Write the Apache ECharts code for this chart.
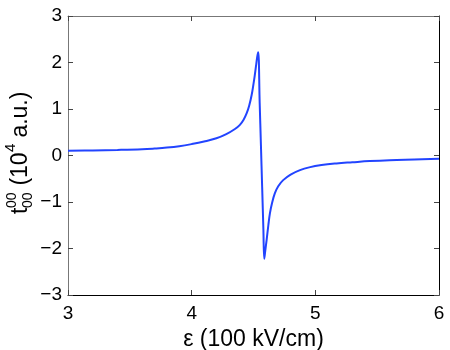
<!DOCTYPE html>
<html>
<head>
<meta charset="utf-8">
<script src="https://cdn.jsdelivr.net/npm/echarts@6/dist/echarts.min.js"></script>
<style>
	html, body { margin: 0; padding: 0; background: #fff; }
	#chart { width: 450px; height: 350px; }
</style>
</head>
<body>
<div id="chart"></div>
<script>
	// field values (100 kV/cm)
	var eps = [3.0, 3.2, 3.4, 3.6, 3.7, 3.8, 3.9, 4.0, 4.1, 4.2, 4.28, 4.35, 4.39, 4.42, 4.445, 4.465, 4.485, 4.5, 4.51, 4.52, 4.53, 4.538,
		4.55, 4.56, 4.57, 4.58, 4.587, 4.595, 4.606, 4.62, 4.633, 4.65, 4.673, 4.7, 4.74, 4.8, 4.876, 4.95, 5.05, 5.17, 5.3, 5.44, 5.6, 5.8, 6.0];
	// t_00^00 in 10^4 a.u.
	var t00 = [0.10, 0.11, 0.12, 0.135, 0.15, 0.17, 0.2, 0.245, 0.30, 0.37, 0.46, 0.57, 0.66, 0.77, 0.91, 1.07, 1.30, 1.54, 1.72, 1.92, 2.12, 2.22,
		1.13, 0.23, -0.68, -1.59, -2.22, -2.05, -1.82, -1.50, -1.24, -1.02, -0.81, -0.66, -0.53, -0.41, -0.315, -0.255, -0.205, -0.17, -0.145, -0.12, -0.10, -0.085, -0.07];
	var xTicks = [3, 4, 5, 6];
	var yTicks = [-3, -2, -1, 0, 1, 2, 3];

	var points = [];
	for (var i = 0; i < eps.length; i++) {
		points.push([eps[i], t00[i]]);
	}

	var font = 'Liberation Sans';
	var labelSize = 19;
	var titleSize = 23;

	var chart = echarts.init(document.getElementById('chart'));

	function fmt(v) {
		return String(v).replace('-', '\u2212');
	}

	var tick = { show: true, inside: true, length: 5, lineStyle: { color: '#444', width: 1 } };

	var option = {
		animation: false,
		grid: { left: 68, right: 11, top: 16, bottom: 55, containLabel: false, outerBoundsMode: 'none' },
		xAxis: [{
			type: 'value',
			min: xTicks[0],
			max: xTicks[xTicks.length - 1],
			interval: 1,
			position: 'bottom',
			axisLine: { onZero: false, lineStyle: { color: '#000', width: 1 } },
			axisTick: tick,
			splitLine: { show: false },
			axisLabel: { color: '#000', fontFamily: font, fontSize: labelSize, margin: 9, formatter: fmt },
			name: '\u03b5 (100 kV/cm)',
			nameLocation: 'middle',
			nameGap: 27,
			nameTextStyle: { color: '#000', fontFamily: font, fontSize: titleSize }
		}, {
			type: 'value',
			min: xTicks[0],
			max: xTicks[xTicks.length - 1],
			interval: 1,
			position: 'top',
			axisLine: { onZero: false, lineStyle: { color: '#777', width: 1 } },
			axisTick: tick,
			axisLabel: { show: false },
			splitLine: { show: false }
		}],
		yAxis: [{
			type: 'value',
			min: yTicks[0],
			max: yTicks[yTicks.length - 1],
			interval: 1,
			position: 'left',
			axisLine: { show: true, onZero: false, lineStyle: { color: '#777', width: 1 } },
			axisTick: tick,
			splitLine: { show: false },
			axisLabel: { color: '#000', fontFamily: font, fontSize: labelSize, margin: 6, formatter: fmt }
		}, {
			type: 'value',
			min: yTicks[0],
			max: yTicks[yTicks.length - 1],
			interval: 1,
			position: 'right',
			axisLine: { show: true, onZero: false, lineStyle: { color: '#000', width: 1 } },
			axisTick: tick,
			axisLabel: { show: false },
			splitLine: { show: false }
		}],
		graphic: [{
			type: 'group',
			x: 21,
			y: 214,
			rotation: Math.PI / 2,
			children: [
				{ type: 'text', x: 0, y: 0, style: { text: 't', fill: '#000', font: titleSize + 'px ' + font, verticalAlign: 'middle' } },
				{ type: 'text', x: 6, y: -9, style: { text: '00', fill: '#000', font: '14px ' + font, verticalAlign: 'middle' } },
				{ type: 'text', x: 6, y: 7, style: { text: '00', fill: '#000', font: '14px ' + font, verticalAlign: 'middle' } },
				{ type: 'text', x: 22, y: 0, style: { text: ' (10', fill: '#000', font: titleSize + 'px ' + font, verticalAlign: 'middle' } },
				{ type: 'text', x: 62, y: -10, style: { text: '4', fill: '#000', font: '15px ' + font, verticalAlign: 'middle' } },
				{ type: 'text', x: 70, y: 0, style: { text: ' a.u.)', fill: '#000', font: titleSize + 'px ' + font, verticalAlign: 'middle' } }
			]
		}],
		series: [{
			type: 'line',
			data: points,
			showSymbol: false,
			smooth: 0.4,
			lineStyle: { color: '#2244ff', width: 2 }
		}]
	};

	chart.setOption(option);
</script>
</body>
</html>
